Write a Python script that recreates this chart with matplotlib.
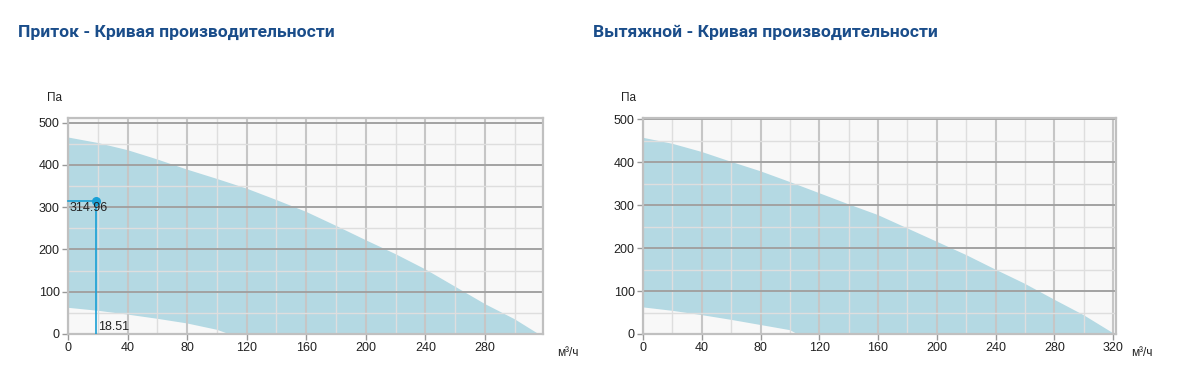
import numpy as np
import matplotlib.pyplot as plt
from matplotlib.ticker import MultipleLocator

# supply fan (left)
flow_in = [0, 20, 40, 60, 80, 100, 120, 140, 160, 180, 200, 220, 240, 260, 280, 300, 316]
p_in_max = [465, 452, 435, 413, 389, 367, 344, 317, 289, 256, 222, 189, 153, 112, 71, 35, 0]
flow_in_low = [0, 20, 40, 60, 80, 100, 108]
p_in_min = [62, 55, 46, 36, 25, 10, 0]
work_flow = 18.51
work_pressure = 314.96

# exhaust fan (right)
flow_out = [0, 20, 40, 60, 80, 100, 120, 140, 160, 180, 200, 220, 240, 260, 280, 300, 321]
p_out_max = [457, 443, 424, 401, 379, 354, 328, 302, 277, 246, 215, 184, 150, 117, 80, 44, 0]
flow_out_low = [0, 20, 40, 60, 80, 100, 105]
p_out_min = [62, 54, 44, 33, 21, 9, 0]

W, H = 1183, 379
FILL = '#b4d9e3'
TITLE_C = '#1a4d8a'

fig = plt.figure(figsize=(W / 100, H / 100), dpi=100)
fig.patch.set_facecolor('white')


def px_axes(x0, y0, x1, y1):
    return fig.add_axes([x0 / W, 1 - y1 / H, (x1 - x0) / W, (y1 - y0) / H])


def setup(ax, xmax, ymax, xticks):
    ax.set_facecolor('#f8f8f8')
    ax.set_xlim(0, xmax)
    ax.set_ylim(0, ymax)
    ax.set_xticks(xticks)
    ax.set_yticks([0, 100, 200, 300, 400, 500])
    ax.xaxis.set_minor_locator(MultipleLocator(20))
    ax.yaxis.set_minor_locator(MultipleLocator(50))
    ax.grid(True, which='minor', color='#dedede', lw=1.0)
    ax.xaxis.grid(True, which='major', color='#c6c6c6', lw=1.5)
    ax.yaxis.grid(True, which='major', color='#a2a2a2', lw=1.4)
    for s in ax.spines.values():
        s.set_color('#c0c0c0')
        s.set_linewidth(1.6)
        s.set_zorder(3)
    ax.tick_params(which='major', length=4, width=1, color='#999999',
                   labelsize=9, labelcolor='#222222', pad=2)
    ax.tick_params(which='minor', length=0)
    for lab in ax.get_xticklabels() + ax.get_yticklabels():
        lab.set_family('Liberation Sans')


def curve(ax, fx, fmax, lx, lmin):
    xs = list(fx) + list(lx)[::-1]
    ys = list(fmax) + list(lmin)[::-1]
    ax.fill(xs, ys, color=FILL, lw=0, zorder=1)


ax1 = px_axes(68, 118, 543, 334)
setup(ax1, 319, 511, [0, 40, 80, 120, 160, 200, 240, 280])
curve(ax1, flow_in, p_in_max, flow_in_low, p_in_min)
op = '#1aa0d5'
ax1.plot([0, work_flow], [work_pressure, work_pressure], color=op, lw=1.2, zorder=4, clip_on=False)
ax1.plot([work_flow, work_flow], [0, work_pressure], color=op, lw=1.2, zorder=4)
ax1.plot([work_flow], [work_pressure], 'o', color=op, ms=5.5, zorder=5)
ax1.text(1, work_pressure - 3, f'{work_pressure:.2f}', fontsize=9, family='Liberation Sans',
         color='#222222', va='top', ha='left', zorder=6)
ax1.text(work_flow + 1.5, 3, f'{work_flow:.2f}', fontsize=9, family='Liberation Sans',
         color='#222222', va='bottom', ha='left', zorder=6)

ax2 = px_axes(643, 118, 1116, 334)
setup(ax2, 322, 503, [0, 40, 80, 120, 160, 200, 240, 280, 320])
curve(ax2, flow_out, p_out_max, flow_out_low, p_out_min)

fig.text(18 / W, 1 - 32 / H, 'Приток - Кривая производительности', fontsize=12.6,
         fontweight='bold', family='Roboto', color=TITLE_C, va='center', ha='left')
fig.text(593 / W, 1 - 32 / H, 'Вытяжной - Кривая производительности', fontsize=12.6,
         fontweight='bold', family='Roboto', color=TITLE_C, va='center', ha='left')

for x in (47, 621):
    fig.text(x / W, 1 - 98 / H, 'Па', fontsize=8.5, family='Liberation Sans',
             color='#222222', va='center', ha='left')
for x in (557, 1131):
    fig.text(x / W, 1 - 353 / H, 'м³/ч', fontsize=8.5, family='Liberation Sans',
             color='#222222', va='center', ha='left')

fig.savefig('out.png', dpi=100)
